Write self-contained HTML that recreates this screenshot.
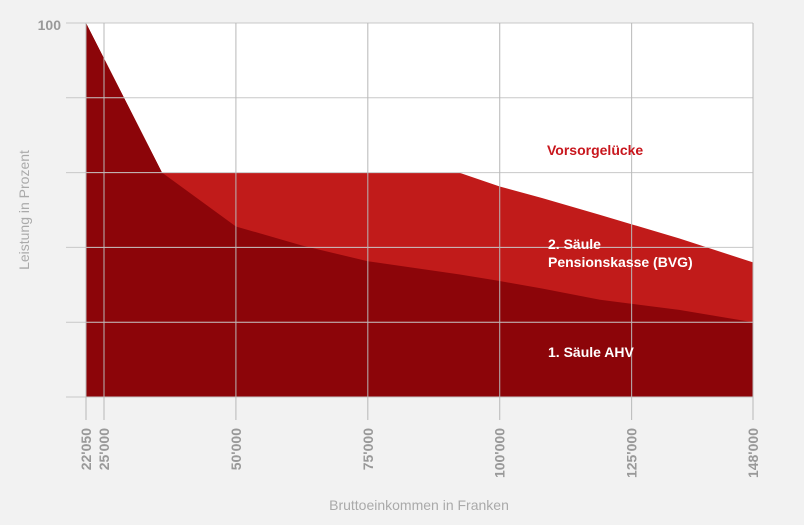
<!DOCTYPE html>
<html><head><meta charset="utf-8"><style>
body{margin:0;background:#f2f2f2;font-family:"Liberation Sans",sans-serif}
svg{display:block}
</style></head><body>
<svg id="c" width="804" height="525">
<rect x="0" y="0" width="804" height="525" fill="#f2f2f2"/>
<rect x="86" y="23" width="667" height="374" fill="#ffffff"/>
<g id="grid"></g>
<g id="areas"></g>
<g id="ticks"></g>
<text x="61" y="30" text-anchor="end" font-size="14" font-weight="bold" fill="#999">100</text>
<text transform="translate(29,210) rotate(-90)" text-anchor="middle" font-size="14" fill="#aaa">Leistung in Prozent</text>
<text x="419" y="510" text-anchor="middle" font-size="14" fill="#aaa">Bruttoeinkommen in Franken</text>
<text x="547" y="155" font-size="14" font-weight="bold" fill="#c8161d">Vorsorgelücke</text>
<text x="548" y="249" font-size="14" font-weight="bold" fill="#fff">2. Säule</text>
<text x="548" y="267" font-size="14" font-weight="bold" fill="#fff">Pensionskasse (BVG)</text>
<text x="548" y="357" font-size="14" font-weight="bold" fill="#fff">1. Säule AHV</text>
</svg>
<script>
const incomes=[22050,36000,50000,62500,75000,92300,100000,108000,119000,134000,148000];
const ahv=[100,60,45.6,40.5,36.3,32.8,31,29,26,23.3,20];
const total=[100,60,60,60,60,60,56.3,53.2,48.7,42.4,36];
const tickValues=[22050,25000,50000,75000,100000,125000,148000];
const tickLabels=["22'050","25'000","50'000","75'000","100'000","125'000","148'000"];
const yGrid=[0,20,40,60,80,100];
const NS="http://www.w3.org/2000/svg";
function X(v){return v<25000?86+(v-22050)/2950*18:104+(v-25000)/123000*649;}
function Y(p){return 397-p*3.74;}
function mk(t,a,parent){const e=document.createElementNS(NS,t);for(const k in a)e.setAttribute(k,a[k]);parent.appendChild(e);return e;}
const grid=document.getElementById('grid'),areas=document.getElementById('areas'),ticks=document.getElementById('ticks');
function area(vals){let d='M'+X(incomes[0])+','+Y(0);incomes.forEach((v,i)=>{d+=' L'+X(v)+','+Y(vals[i]);});d+=' L'+X(incomes[incomes.length-1])+','+Y(0)+' Z';return d;}
const a1=mk('path',{d:area(total),fill:'#c11b1a'},areas);


const a2=mk('path',{d:area(ahv),fill:'#8c0509'},areas);


yGrid.forEach(p=>{const l=mk('line',{x1:66,x2:753,y1:Y(p),y2:Y(p),stroke:'#c8c8c8','stroke-width':1},ticks);

});
tickValues.forEach((v,i)=>{const x=X(v);
const l=mk('line',{x1:x,x2:x,y1:23,y2:420,stroke:'#b8b8b8','stroke-width':1},ticks);


const t=mk('text',{transform:'translate('+(x+5)+',428) rotate(-90)','text-anchor':'end','font-size':14,'font-weight':'bold',fill:'#999'},ticks);
t.textContent=tickLabels[i];

});
</script>
</body></html>
